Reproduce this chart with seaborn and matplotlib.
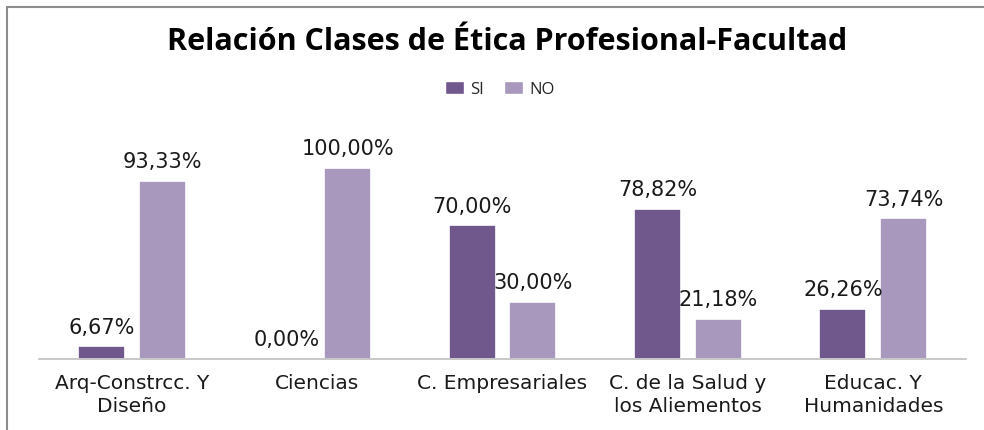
import matplotlib
matplotlib.use("Agg")
import matplotlib.pyplot as plt
import seaborn as sns
import pandas as pd
from matplotlib.patches import Rectangle, Patch

categories = ["Arq-Constrcc. Y\nDiseño", "Ciencias", "C. Empresariales",
              "C. de la Salud y\nlos Aliementos", "Educac. Y\nHumanidades"]
si_values = [6.67, 0.00, 70.00, 78.82, 26.26]
no_values = [93.33, 100.00, 30.00, 21.18, 73.74]
series = ["SI", "NO"]
colors = {"SI": "#70578C", "NO": "#A898BE"}
title = "Relación Clases de Ética Profesional-Facultad"

df = pd.DataFrame({
    "Facultad": categories * 2,
    "Serie": ["SI"] * len(categories) + ["NO"] * len(categories),
    "Valor": si_values + no_values,
})

sns.set_theme(style="white")
plt.rcParams["font.family"] = ["DejaVu Sans"]

W, H = 984, 431
fig = plt.figure(figsize=(W / 100, H / 100), dpi=100)

# frame border (left and top visible)
fig.add_artist(Rectangle((7 / W, -0.05), 1.2, (H - 8) / H + 0.05,
                         transform=fig.transFigure, fill=False,
                         edgecolor="#8C8C8C", linewidth=1.5))

ax_left, ax_right = 39, 966
ax_bottom_px = 360
ax_top_px = 150
ax = fig.add_axes([ax_left / W, (H - ax_bottom_px) / H,
                   (ax_right - ax_left) / W, (ax_bottom_px - ax_top_px) / H])

sns.barplot(data=df, x="Facultad", y="Valor", hue="Serie", hue_order=series,
            palette=colors, width=0.656, gap=0.23, ax=ax, legend=False,
            edgecolor="white", linewidth=1.2, saturation=1)

ax.set_ylim(0, 110)
ax.set_xlim(-0.5, len(categories) - 0.5)
ax.set_xlabel("")
ax.set_ylabel("")
ax.set_yticks([])
ax.tick_params(axis="x", length=0, pad=10, labelsize=14.5, colors="#1a1a1a")
for lab in ax.get_xticklabels():
    lab.set_linespacing(1.3)
for s in ["top", "right", "left"]:
    ax.spines[s].set_visible(False)
ax.spines["bottom"].set_color("#BFBFBF")
ax.spines["bottom"].set_linewidth(1.2)

for cont, vals in zip(ax.containers, [si_values, no_values]):
    labels = [f"{v:.2f}".replace(".", ",") + "%" for v in vals]
    ax.bar_label(cont, labels=labels, padding=7, fontsize=15, color="#1a1a1a")

fig.text(507 / W, 1 - 42 / H, title, ha="center", va="center",
         fontsize=22, fontweight="bold", family=["Open Sans"], color="#000000")

# legend
handles = [Patch(facecolor=colors[s], edgecolor="white") for s in series]
fig.legend(handles, series, loc="center", bbox_to_anchor=(500 / W, 1 - 90 / H),
           ncol=2, frameon=False, handlelength=1.1, handleheight=0.8,
           handletextpad=0.4, columnspacing=1.2,
           prop={"family": "Open Sans", "size": 12})

fig.savefig("out.png", dpi=100)
